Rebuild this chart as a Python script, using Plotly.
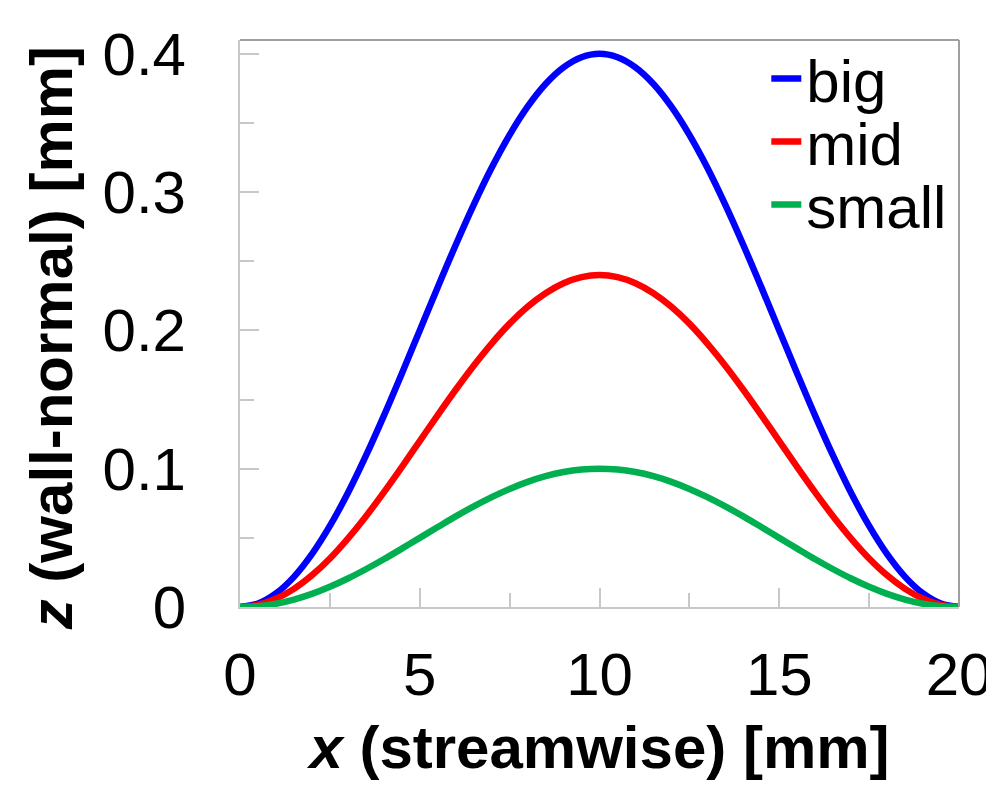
import plotly.graph_objects as go

x_mm = [0, 0.5, 1, 1.5, 2, 2.5, 3, 3.5, 4, 4.5, 5, 5.5, 6, 6.5, 7, 7.5, 8, 8.5, 9, 9.5,
        10, 10.5, 11, 11.5, 12, 12.5, 13, 13.5, 14, 14.5, 15, 15.5, 16, 16.5, 17, 17.5,
        18, 18.5, 19, 19.5, 20]

z_big = [0, 0.0025, 0.0098, 0.0218, 0.0382, 0.0586, 0.0824, 0.1092, 0.1382, 0.1687, 0.2000,
         0.2313, 0.2618, 0.2908, 0.3176, 0.3414, 0.3618, 0.3782, 0.3902, 0.3975, 0.4000,
         0.3975, 0.3902, 0.3782, 0.3618, 0.3414, 0.3176, 0.2908, 0.2618, 0.2313, 0.2000,
         0.1687, 0.1382, 0.1092, 0.0824, 0.0586, 0.0382, 0.0218, 0.0098, 0.0025, 0]

z_mid = [0, 0.0015, 0.0059, 0.0131, 0.0229, 0.0351, 0.0495, 0.0655, 0.0829, 0.1012, 0.1200,
         0.1388, 0.1571, 0.1745, 0.1905, 0.2049, 0.2171, 0.2269, 0.2341, 0.2385, 0.2400,
         0.2385, 0.2341, 0.2269, 0.2171, 0.2049, 0.1905, 0.1745, 0.1571, 0.1388, 0.1200,
         0.1012, 0.0829, 0.0655, 0.0495, 0.0351, 0.0229, 0.0131, 0.0059, 0.0015, 0]

z_small = [0, 0.0006, 0.0024, 0.0054, 0.0095, 0.0146, 0.0206, 0.0273, 0.0345, 0.0422, 0.0500,
           0.0578, 0.0655, 0.0727, 0.0794, 0.0854, 0.0905, 0.0946, 0.0976, 0.0994, 0.1000,
           0.0994, 0.0976, 0.0946, 0.0905, 0.0854, 0.0794, 0.0727, 0.0655, 0.0578, 0.0500,
           0.0422, 0.0345, 0.0273, 0.0206, 0.0146, 0.0095, 0.0054, 0.0024, 0.0006, 0]

series_names = ["big", "mid", "small"]
series_values = [z_big, z_mid, z_small]
series_colors = ["#0000ff", "#ff0000", "#00b050"]

x_tickvals = [0, 5, 10, 15, 20]
y_tickvals = [0, 0.1, 0.2, 0.3, 0.4]
y_ticktext = ["0", "0.1", "0.2", "0.3", "0.4"]

FONT = "Liberation Sans, Arial, sans-serif"

legend_ids = ["legend", "legend2", "legend3"]
legend_y = [0.932, 0.821, 0.710]

fig = go.Figure()
for name, vals, col, lg in zip(series_names, series_values, series_colors, legend_ids):
    fig.add_trace(go.Scatter(x=x_mm, y=vals, name=name, mode="lines", legend=lg,
                             line=dict(color=col, width=6.5, shape="spline", smoothing=1.0)))

legend_common = dict(x=0.732, xanchor="left", yanchor="middle", bgcolor="rgba(0,0,0,0)",
                     font=dict(size=60, family=FONT, color="black"), itemwidth=30,
                     borderwidth=0)

fig.update_layout(
    width=986, height=782,
    margin=dict(l=232, r=35, t=32, b=183),
    paper_bgcolor="white", plot_bgcolor="white",
    font=dict(family=FONT, color="black", size=60),
    showlegend=True,
    legend=dict(y=legend_y[0], **legend_common),
    legend2=dict(y=legend_y[1], **legend_common),
    legend3=dict(y=legend_y[2], **legend_common),
)

fig.update_xaxes(
    range=[0, 20], tickvals=x_tickvals, ticks="inside", ticklen=19, tickwidth=1.5,
    tickcolor="#c8c8c8", showline=True, linecolor="#c8c8c8", linewidth=2,
    showgrid=False, zeroline=False, tickfont=dict(size=60, family=FONT),
    ticklabelstandoff=14, automargin=False,
    minor=dict(dtick=2.5, ticks="inside", ticklen=14, tickcolor="#c8c8c8", tickwidth=1.5),
    title=dict(text="<b><i>x</i> (streamwise) [mm]</b>", font=dict(size=60, family=FONT),
               standoff=19),
)
fig.update_yaxes(
    range=[0, 0.41], tickvals=y_tickvals, ticktext=y_ticktext, ticks="inside",
    ticklen=19, tickwidth=1.5, tickcolor="#c8c8c8", showline=True, linecolor="#c8c8c8",
    linewidth=2, showgrid=False, zeroline=False, tickfont=dict(size=60, family=FONT),
    ticklabelstandoff=40, automargin=False,
    minor=dict(dtick=0.05, ticks="inside", ticklen=14, tickcolor="#c8c8c8", tickwidth=1.5),
)

fig.add_annotation(text="<b><i>z</i> (wall-normal) [mm]</b>", textangle=-90,
                   xref="paper", yref="paper", x=-0.261, y=0.4745,
                   xanchor="center", yanchor="middle", showarrow=False,
                   font=dict(size=60, family=FONT, color="black"))

# darker top and right frame
fig.add_shape(type="line", xref="x domain", yref="y domain", x0=0, x1=1, y0=1, y1=1,
              line=dict(color="#a0a0a0", width=2))
fig.add_shape(type="line", xref="x domain", yref="y domain", x0=1, x1=1, y0=0, y1=1,
              line=dict(color="#a0a0a0", width=2))

fig.write_html("out.html")
